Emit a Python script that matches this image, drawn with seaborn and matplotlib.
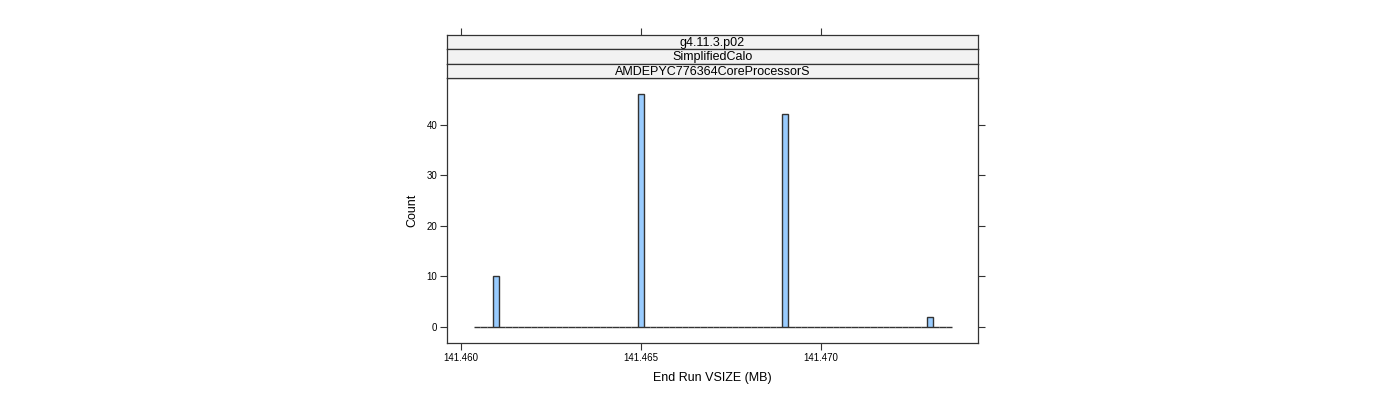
import matplotlib
matplotlib.use("Agg")
import matplotlib.pyplot as plt
import seaborn as sns
import numpy as np
import pandas as pd

# Data (bin centres of occupied bins and their counts)
vsize_values = [141.46092, 141.46496, 141.46900, 141.47306]
counts = [10, 46, 42, 2]
strip_labels = ["g4.11.3.p02", "SimplifiedCalo", "AMDEPYC776364CoreProcessorS"]
x_ticks = [141.460, 141.465, 141.470]
x_tick_labels = ["141.460", "141.465", "141.470"]
y_ticks = [0, 10, 20, 30, 40]

df = pd.DataFrame({"vsize": vsize_values, "count": counts})

sns.set_theme(style="white")
plt.rcParams["font.family"] = ["Liberation Sans", "DejaVu Sans"]
plt.rcParams["text.color"] = "black"
plt.rcParams["axes.labelcolor"] = "black"
plt.rcParams["xtick.color"] = "black"
plt.rcParams["ytick.color"] = "black"

W, H = 1400, 400
fig = plt.figure(figsize=(14, 4), dpi=100)

left = 447 / W
right = 978 / W
bottom = (H - 343) / H
panel_top = (H - 78) / H
strip_h = 14.3 / H

edge = "#333333"
ax = fig.add_axes([left, bottom, right - left, panel_top - bottom])
sns.histplot(data=df, x="vsize", weights="count", bins=76,
             binrange=(141.46036, 141.47364), stat="count",
             color="#99CCFF", edgecolor="#333333", linewidth=1.0,
             alpha=1.0, ax=ax)
ax.set_xlim(141.459611, 141.474361)
ax.set_ylim(-3.16, 49.2)
ax.set_xticks(x_ticks)
ax.set_xticklabels(x_tick_labels)
ax.set_yticks(y_ticks)
ax.tick_params(axis="both", which="both", direction="out", length=5,
               width=0.8, color=edge, labelsize=7, pad=2,
               labelcolor="black",
               bottom=True, left=True, right=True, top=False,
               labelright=False)
ax.set_xlabel("End Run VSIZE (MB)", fontsize=9, labelpad=7, color="black")
ax.set_ylabel("Count", fontsize=9, labelpad=6, color="black")
for s in ax.spines.values():
    s.set_color(edge)
    s.set_linewidth(0.9)
    s.set_visible(True)

# strips
for i, lab in enumerate(strip_labels):
    y0 = panel_top + (len(strip_labels) - 1 - i) * strip_h
    sax = fig.add_axes([left, y0, right - left, strip_h])
    sax.set_facecolor("#F2F2F2")
    sax.set_xticks([])
    sax.set_yticks([])
    for s in sax.spines.values():
        s.set_color(edge)
        s.set_linewidth(0.9)
    sax.text(0.5, 0.45, lab, ha="center", va="center", fontsize=9,
             transform=sax.transAxes, color="black")

# top ticks above the strips
top_total = panel_top + len(strip_labels) * strip_h
tax = fig.add_axes([left, bottom, right - left, top_total - bottom], sharex=ax)
tax.patch.set_visible(False)
for s in tax.spines.values():
    s.set_visible(False)
tax.set_yticks([])
tax.tick_params(axis="x", which="both", direction="out", length=5, width=0.8,
                color=edge, top=True, bottom=False, labeltop=False,
                labelbottom=False)
tax.set_xticks(x_ticks)

fig.savefig("out.png", dpi=100)
